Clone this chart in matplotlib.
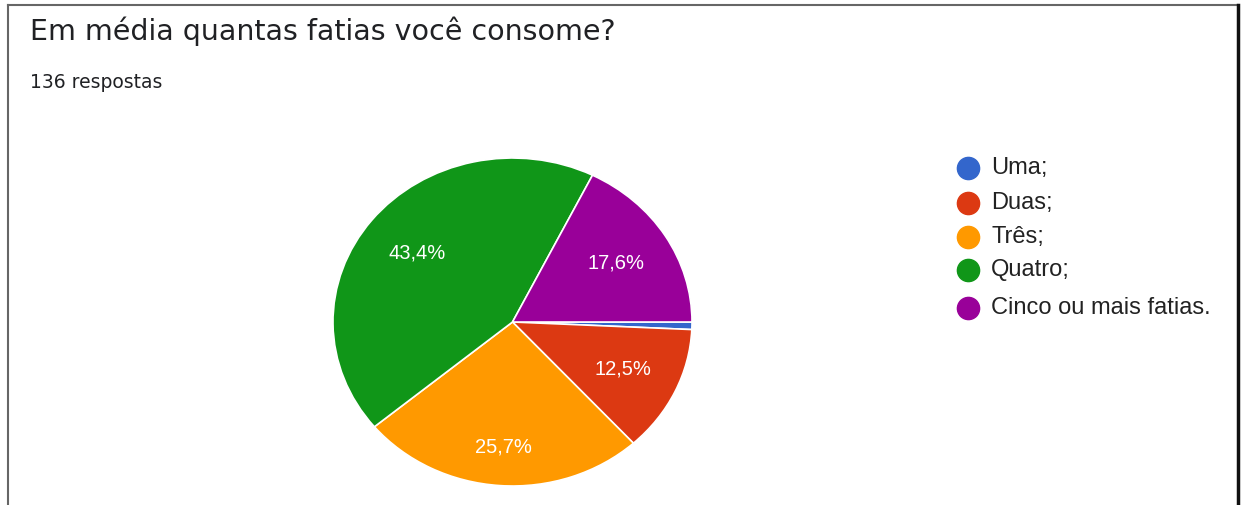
import matplotlib.pyplot as plt
from matplotlib.lines import Line2D

# data
categories = ['Uma;', 'Duas;', 'Três;', 'Quatro;', 'Cinco ou mais fatias.']
counts = [1, 17, 35, 59, 24]
colors = ['#3366cc', '#dc3912', '#ff9900', '#109618', '#990099']
title = 'Em média quantas fatias você consome?'
subtitle = '136 respostas'

W, H = 1243, 505
fig = plt.figure(figsize=(W / 100, H / 100), dpi=100)


def fx(px):
    return px / W


def fy(py):
    return 1 - py / H


def pct_label(p):
    if p < 5:
        return ''
    return f'{p:.1f}%'.replace('.', ',')


# pie area (slightly stretched, as in the screenshot)
ax = fig.add_axes([fx(333), fy(486), fx(692) - fx(333), (486 - 158) / H])
wedges, texts, autotexts = ax.pie(
    counts, colors=colors, startangle=0, counterclock=False,
    autopct=pct_label, pctdistance=0.68,
    wedgeprops=dict(edgecolor='white', linewidth=1.2),
    textprops=dict(color='white', fontsize=14.5, family='Liberation Sans'))
ax.set_aspect('auto')
ax.set_xlim(-1, 1)
ax.set_ylim(-1, 1)
ax.axis('off')
autotexts[2].set_position((-0.05, -0.76))

# titles
fig.text(fx(30), fy(31), title, fontsize=20.5, family='DejaVu Sans',
         color='#202124', va='center', ha='left')
fig.text(fx(30), fy(82), subtitle, fontsize=13.5, family='DejaVu Sans',
         color='#202124', va='center', ha='left')

# legend
leg_y = [168, 203, 237, 270, 308]
for c, lab, y in zip(colors, categories, leg_y):
    fig.add_artist(Line2D([fx(968)], [fy(y)], marker='o', markersize=16,
                          color=c, linestyle='none'))
    fig.text(fx(991), fy(y), lab, fontsize=17, family='Liberation Sans',
             color='#222222', va='center', ha='left')

# frame around the card
fig.add_artist(Line2D([fx(8), fx(8)], [fy(505), fy(5)], color='#666666', lw=1.5))
fig.add_artist(Line2D([fx(8), fx(1238)], [fy(5), fy(5)], color='#666666', lw=1.5))
fig.add_artist(Line2D([fx(1238), fx(1238)], [fy(5), fy(505)], color='#111111', lw=2.5))

fig.savefig('out.png', dpi=100)
